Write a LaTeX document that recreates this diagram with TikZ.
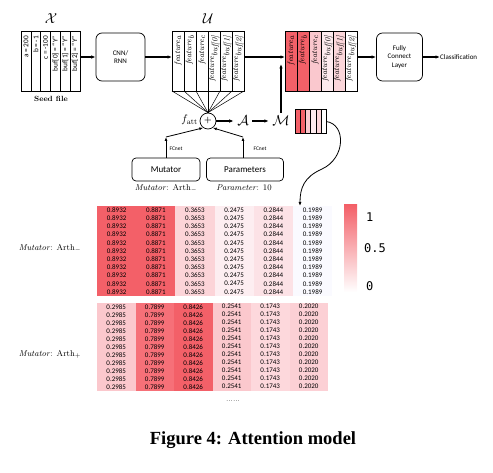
\documentclass[tikz,border=0pt]{standalone}
\usepackage{fontspec}
\setsansfont{Carlito}
\newfontfamily\capfont{Liberation Serif}
\newfontfamily\monof{DejaVu Sans Mono}
\usetikzlibrary{arrows.meta,calc}
\definecolor{hr}{RGB}{243,96,104}
\definecolor{hr2}{RGB}{246,112,120}
\definecolor{pk3}{RGB}{252,212,216}
\definecolor{pk4}{RGB}{253,238,241}
\definecolor{pk5}{RGB}{252,226,230}
\definecolor{pk6}{RGB}{250,250,255}
\definecolor{bp1}{RGB}{251,200,205}
\definecolor{bp5}{RGB}{253,216,220}
\definecolor{bp6}{RGB}{252,208,213}
\definecolor{wc3}{RGB}{250,200,206}
\definecolor{wc4}{RGB}{253,235,238}
\definecolor{wc5}{RGB}{251,214,218}
\tikzset{
  cellbox/.style={draw, line width=0.6pt, inner sep=0pt, outer sep=0pt},
  celltext/.style={rotate=90, anchor=east, inner sep=0pt, font=\sffamily\fontsize{7.3}{8}\selectfont},
  feattext/.style={rotate=90, anchor=east, inner sep=0pt, font=\fontsize{8}{9}\selectfont},
  rbox/.style={draw, line width=0.7pt, rounded corners=6pt, align=center, inner sep=0pt},
  arr/.style={-{Latex[length=4.5pt,width=3.5pt]}, line width=1.1pt},
  tarr/.style={-{Latex[length=4pt,width=3pt]}, line width=0.8pt},
  thin/.style={line width=0.5pt},
  num/.style={inner sep=0pt, font=\sffamily\fontsize{7}{7}\selectfont},
  lab/.style={inner sep=0pt, font=\fontsize{8.5}{9}\selectfont},
}
\begin{document}
\begin{tikzpicture}[x=1pt,y=-1pt]
\useasboundingbox (0,0) rectangle (493,473);

% ---- seed file ----
\node[font=\fontsize{15}{16}\selectfont] (xl) at (51,19) {$\mathcal{X}$};
\foreach \i/\t in {1/{a = 200},2/{b = -1},3/{c = -100},4/{buf[0] = “Y”},5/{buf[1] = “Y”},6/{buf[2] = “Y”}}{
  \node[cellbox, minimum width=9.83pt, minimum height=60pt] (s\i) at ({21+9.83*(\i-0.5)},61) {};
  \node[celltext] (st\i) at ([yshift=-5pt]s\i.north) {\t};
}
\node[font=\bfseries\fontsize{7.5}{8}\selectfont] (seedlab) at (51,99) {Seed file};

% ---- CNN/RNN ----
\node[rbox, minimum width=49pt, minimum height=48pt, font=\sffamily\fontsize{7}{8.5}\selectfont] (cnn) at (120.5,57) {CNN/\\RNN};
\draw[arr] (s6.east |- cnn.west) -- (cnn.west);

% ---- U ----
\node[font=\fontsize{15}{16}\selectfont] (ul) at (208,19) {$\mathcal{U}$};
\foreach \i/\t in {1/a,2/b,3/c,4/{buf[0]},5/{buf[1]},6/{buf[2]}}{
  \node[cellbox, minimum width=12pt, minimum height=60pt] (u\i) at ({172+12*(\i-0.5)},61) {};
  \node[feattext] (ut\i) at ([yshift=-4pt]u\i.north) {\textit{feature}$_{\textit{\t}}$};
}
\draw[arr] (cnn.east) -- (cnn.east -| u1.west);

% ---- weighted features ----
\foreach \i/\t/\c in {1/a/hr,2/b/hr,3/c/wc3,4/{buf[0]}/wc4,5/{buf[1]}/wc5,6/{buf[2]}/white}{
  \node[cellbox, fill=\c, minimum width=12pt, minimum height=60pt] (w\i) at ({285+12*(\i-0.5)},61) {};
  \node[feattext] (wt\i) at ([yshift=-4pt]w\i.north) {\textit{feature}$_{\textit{\t}}$};
}
\draw[arr] (u6.east |- cnn.east) -- (w1.west |- cnn.east);

% ---- FC ----
\node[rbox, minimum width=46pt, minimum height=48pt, font=\sffamily\fontsize{7}{8.5}\selectfont] (fc) at (399.5,57) {Fully\\Connect\\Layer};
\draw[arr] (w6.east |- fc.west) -- (fc.west);
\node[font=\sffamily\fontsize{7}{8}\selectfont, anchor=west, inner sep=0pt] (cls) at (440,57) {Classification};
\draw[arr] (fc.east) -- (cls.west);

% ---- attention circle ----
\node[draw, circle, line width=0.7pt, minimum size=16pt, inner sep=0pt, font=\bfseries\fontsize{8}{8}\selectfont] (circ) at (208,121) {+};
\foreach \i in {1,...,6}{ \draw[thin] (u\i.south west) -- (circ.north); }
\draw[thin] (u6.south east) -- (circ.north);
\node[font=\fontsize{11}{12}\selectfont, anchor=east, inner sep=1pt] (fatt) at (199,120) {$f_{\mathrm{att}}$};
\node[font=\fontsize{14}{15}\selectfont] (anode) at (243,121) {$\mathcal{A}$};
\node[font=\fontsize{14}{15}\selectfont] (mnode) at (281,121) {$\mathcal{M}$};
\draw[arr] (circ.east) -- (anode.west);
\draw[arr] (anode.east) -- (mnode.west);
\coordinate (vtip) at (281,64);
\draw[arr] (mnode.north -| vtip) -- (vtip);

% small bar
\foreach \i/\c in {1/hr,2/hr,3/wc3,4/wc4,5/wc5,6/white}{
  \node[cellbox, line width=0.5pt, fill=\c, minimum width=5.2pt, minimum height=24pt] (mb\i) at ({295+5.2*(\i-0.5)},121.5) {};
}

% ---- Mutator / Parameters ----
\node[rbox, minimum width=68pt, minimum height=23pt, rounded corners=4pt, font=\sffamily\fontsize{9}{10}\selectfont] (mut) at (166,169.5) {Mutator};
\node[rbox, minimum width=77pt, minimum height=23pt, rounded corners=4pt, font=\sffamily\fontsize{9}{10}\selectfont] (par) at (245,169.5) {Parameters};
\coordinate (mtop) at (166,137);
\coordinate (ptop) at (243,137);
\draw[tarr] (mut.north -| mtop) -- (mtop);
\draw[tarr] (mtop) -- (circ.235);
\draw[tarr] (par.north -| ptop) -- (ptop);
\draw[tarr] (ptop) -- (circ.305);
\node[font=\sffamily\fontsize{5.5}{6}\selectfont] (fc1) at (176,149) {FCnet};
\node[font=\sffamily\fontsize{5.5}{6}\selectfont] (fc2) at (260,149) {FCnet};
\node[lab] (mutl) at (166,188) {\textit{Mutator}: Arth$_{-}$};
\node[lab] (parl) at (244,188) {\textit{Parameter}: 10};

% ---- table top ----
\foreach \c/\v/\col in {1/0.8932/hr,2/0.8871/hr,3/0.3653/pk3,4/0.2475/pk4,5/0.2844/pk5,6/0.1989/pk6}{
  \node[fill=\col, minimum width=39.2pt, minimum height=90pt, inner sep=0pt, outer sep=0pt] (tb\c) at ({97+39.2*(\c-0.5)},251) {};
  \foreach \r in {1,...,11}{
    \node[num] (tn\c-\r) at ({97+39.2*(\c-0.5)},{206+8.18*(\r-0.5)}) {\v};
  }
}
% ---- table bottom ----
\foreach \c/\v/\col in {1/0.2985/bp1,2/0.7899/hr2,3/0.8426/hr,4/0.2541/bp1,5/0.1743/bp5,6/0.2020/bp6}{
  \node[fill=\col, minimum width=38.5pt, minimum height=88pt, inner sep=0pt, outer sep=0pt] (bb\c) at ({97+38.5*(\c-0.5)},346.7) {};
  \foreach \r in {1,...,11}{
    \node[num] (bn\c-\r) at ({97+38.5*(\c-0.5)},{302.7+8*(\r-0.5)}) {\v};
  }
}
\node[lab] (tl1) at (50,248) {\textit{Mutator}: Arth$_{-}$};
\node[lab] (tl2) at (50,354) {\textit{Mutator}: Arth$_{+}$};
\node[inner sep=0pt, font=\fontsize{7}{8}\selectfont] (dots) at (233,401) {......};

% curve from bar to table
\draw[tarr] (mb6.east) .. controls (346,124) and (346,158) .. (322,169) .. controls (304,177) and (300,188) .. ([xshift=7pt]tb6.north west);

% ---- color bar ----
\node[minimum width=13pt, minimum height=87pt, inner sep=0pt, top color=hr, bottom color=white] (cbar) at (350.5,248.5) {};
\node[font=\monof\fontsize{12}{12}\selectfont, anchor=west, inner sep=0pt] (c1) at (366,217) {1};
\node[font=\monof\fontsize{12}{12}\selectfont, anchor=west, inner sep=0pt] (c05) at (364,248) {0.5};
\node[font=\monof\fontsize{12}{12}\selectfont, anchor=west, inner sep=0pt] (c0) at (366,286) {0};

% ---- caption ----
\node[font=\capfont\bfseries\fontsize{18.5}{20}\selectfont] (cap) at (253,440) {Figure 4: Attention model};
\end{tikzpicture}
\end{document}
